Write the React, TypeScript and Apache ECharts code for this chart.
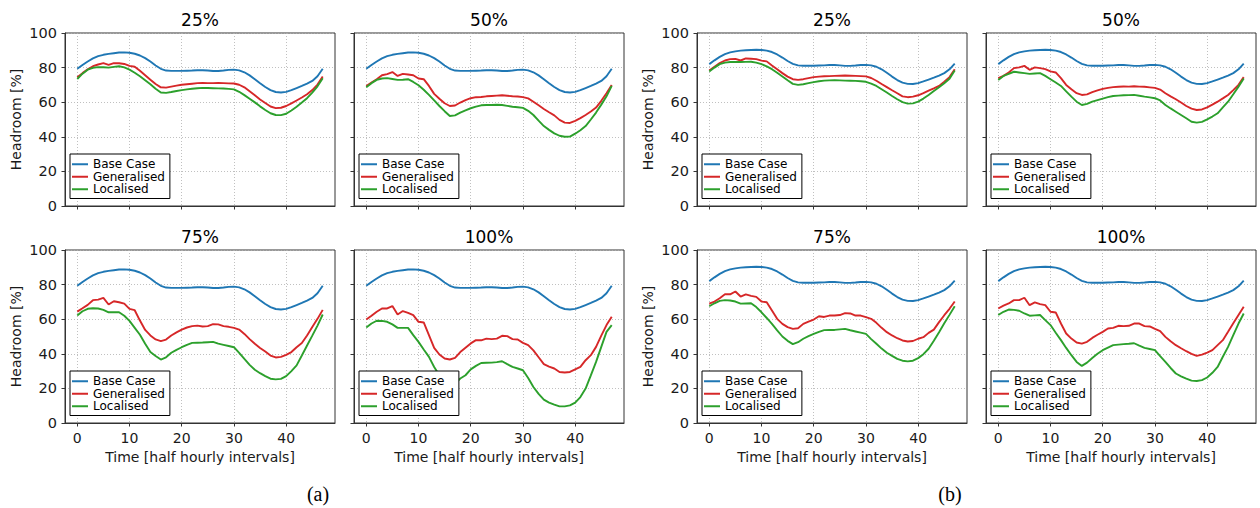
import React, { useEffect, useRef } from "react";
import * as echarts from "echarts";

// ---------- data ----------
const TIME = [
  0, 1, 2, 3, 4, 5, 6, 7, 8, 9,
  10, 11, 12, 13, 14, 15, 16, 17, 18, 19,
  20, 21, 22, 23, 24, 25, 26, 27, 28, 29,
  30, 31, 32, 33, 34, 35, 36, 37, 38, 39,
  40, 41, 42, 43, 44, 45, 46, 47,
];
const X_TICKS = [0, 10, 20, 30, 40];
const SERIES_NAMES = ["Base Case", "Generalised", "Localised"];
const PANEL_TITLES = ["25%", "50%", "75%", "100%"];
const CAPTIONS = ["(a)", "(b)"];
const X_NAME = "Time [half hourly intervals]";
const Y_NAME = "Headroom [%]";

// (a)
const A_BASE = [
  79.3, 81.5, 83.5, 85.3, 86.6, 87.4, 87.9, 88.3, 88.7, 88.8,
  88.6, 88.0, 87.0, 85.5, 83.5, 81.2, 79.3, 78.3, 78.1, 78.1,
  78.1, 78.2, 78.3, 78.5, 78.5, 78.3, 78.0, 78.0, 78.3, 78.7,
  78.8, 78.4, 77.3, 75.5, 73.3, 71.0, 68.8, 67.0, 65.9, 65.6,
  66.0, 67.0, 68.2, 69.4, 70.7, 72.3, 75.0, 79.3,
];
const A25_GEN = [
  74.4, 76.8, 79.0, 80.8, 81.8, 82.6, 81.6, 82.6, 82.5, 82.1,
  81.0, 80.5, 78.2, 75.6, 73.0, 70.5, 68.6, 68.4, 69.0, 69.6,
  70.1, 70.4, 70.7, 71.0, 71.1, 71.0, 71.0, 71.1, 71.0, 70.9,
  70.8, 70.1, 68.6, 66.3, 64.0, 61.6, 59.5, 57.5, 56.6, 56.8,
  57.8, 59.3, 61.0, 62.7, 64.6, 67.0, 70.2, 74.9,
];
const A25_LOC = [
  73.4, 76.5, 78.8, 79.9, 80.3, 80.2, 80.0, 80.4, 80.8, 80.1,
  78.8, 77.0, 75.0, 72.7, 70.4, 67.8, 65.6, 65.4, 65.9, 66.5,
  67.0, 67.4, 67.8, 68.1, 68.3, 68.2, 68.1, 68.0, 67.9, 67.7,
  67.4, 66.0, 64.1, 62.0, 59.9, 57.6, 55.5, 53.6, 52.6, 52.5,
  53.3, 55.2, 57.4, 59.8, 62.3, 65.5, 69.2, 73.9,
];
const A50_GEN = [
  69.4, 71.4, 73.3, 75.6, 76.2, 77.4, 75.2, 76.4, 76.0, 75.6,
  73.7, 73.3, 69.4, 64.8, 62.0, 59.4, 57.8, 58.1, 59.8, 61.2,
  62.3, 62.9, 63.0, 63.4, 63.6, 63.8, 64.0, 63.7, 63.4, 63.3,
  62.9, 62.2, 60.3, 58.2, 56.1, 54.2, 52.4, 49.8, 48.2, 48.0,
  49.2, 50.8, 52.6, 54.6, 56.9, 60.8, 65.2, 70.0,
];
const A50_LOC = [
  68.7, 71.0, 72.9, 73.7, 73.9, 73.4, 72.9, 73.0, 73.3, 71.7,
  69.8, 67.2, 64.2, 61.0, 57.8, 54.8, 52.0, 52.4, 54.0, 55.3,
  56.5, 57.4, 58.2, 58.4, 58.4, 58.5, 58.4, 57.9, 57.4, 57.1,
  56.7, 55.0, 52.6, 49.3, 46.2, 44.0, 42.0, 40.6, 40.0, 40.1,
  41.8, 43.8, 46.2, 50.0, 54.0, 58.6, 63.4, 69.4,
];
const A75_GEN = [
  64.4, 66.3, 68.3, 71.0, 71.3, 72.3, 68.5, 70.4, 69.8, 69.0,
  66.0, 65.2, 59.2, 53.8, 50.6, 48.3, 47.3, 48.2, 50.6, 52.4,
  54.0, 55.2, 56.0, 56.3, 55.8, 56.0, 57.1, 57.0, 56.0, 55.6,
  55.0, 54.0, 51.5, 48.5, 45.8, 43.4, 41.3, 39.0, 37.9, 38.2,
  39.4, 41.0, 43.8, 46.2, 50.6, 55.5, 60.2, 65.4,
];
const A75_LOC = [
  62.1, 64.6, 66.0, 66.3, 66.2, 65.4, 64.0, 64.1, 64.0, 62.0,
  59.0, 55.0, 51.0, 45.8, 41.0, 38.7, 36.7, 38.0, 40.6, 42.3,
  43.8, 45.2, 46.3, 46.4, 46.5, 46.7, 46.9, 45.9, 45.2, 44.5,
  43.8, 40.5, 37.0, 33.6, 30.8, 28.8, 27.1, 25.6, 25.2, 25.5,
  27.1, 30.0, 33.3, 39.0, 44.8, 50.5, 56.3, 62.7,
];
const A100_GEN = [
  59.8, 62.0, 64.3, 66.2, 66.2, 67.6, 62.7, 64.7, 63.7, 62.4,
  58.5, 58.1, 50.8, 43.4, 39.6, 37.3, 36.7, 37.6, 41.0, 43.5,
  46.0, 47.9, 47.8, 48.8, 48.5, 48.8, 50.4, 50.2, 48.5, 48.3,
  46.3, 45.0, 42.0, 38.0, 34.0, 32.6, 31.5, 29.5, 29.2, 29.5,
  31.0, 32.4, 36.3, 39.2, 44.0, 50.5, 56.6, 61.4,
];
const A100_LOC = [
  55.2, 57.5, 59.1, 59.0, 58.5, 57.0, 55.0, 55.0, 55.0, 50.8,
  46.9, 42.5, 38.2, 32.4, 27.6, 23.7, 21.8, 22.8, 25.7, 27.6,
  31.0, 33.0, 34.7, 34.8, 34.9, 35.2, 35.7, 34.0, 32.4, 31.5,
  30.5, 26.0, 20.8, 16.8, 13.5, 11.8, 10.6, 9.6, 9.6, 10.2,
  11.8, 15.0, 19.9, 27.5, 35.3, 44.0, 52.7, 56.6,
];

// (b)
const B_BASE = [
  82.0, 84.2, 86.2, 87.8, 88.8, 89.4, 89.8, 90.0, 90.2, 90.3,
  90.2, 89.8, 89.0, 87.6, 85.8, 83.8, 82.2, 81.3, 81.1, 81.1,
  81.1, 81.2, 81.3, 81.5, 81.5, 81.3, 81.0, 81.0, 81.2, 81.5,
  81.6, 81.3, 80.5, 79.0, 77.0, 74.8, 72.8, 71.3, 70.6, 70.5,
  71.0, 72.0, 73.1, 74.2, 75.4, 76.8, 79.0, 82.3,
];
const B25_GEN = [
  78.3, 80.5, 82.6, 84.1, 84.9, 85.0, 84.1, 85.3, 85.1, 84.9,
  84.0, 83.6, 81.2, 79.0, 76.8, 74.8, 73.3, 72.9, 73.3, 73.9,
  74.5, 74.8, 75.0, 75.1, 75.2, 75.3, 75.4, 75.3, 75.2, 75.1,
  74.9, 74.0, 72.4, 70.5, 68.7, 66.9, 65.2, 63.4, 62.9, 63.2,
  64.0, 65.3, 66.7, 68.0, 69.4, 71.8, 74.5, 79.1,
];
const B25_LOC = [
  77.8, 80.0, 82.0, 82.9, 83.2, 83.2, 83.2, 83.3, 83.4, 82.9,
  82.0, 80.7, 79.1, 77.0, 74.9, 72.7, 70.6, 70.0, 70.4, 71.0,
  71.6, 72.1, 72.5, 72.6, 72.7, 72.6, 72.5, 72.4, 72.3, 72.1,
  71.8, 70.7, 69.4, 67.5, 65.6, 63.6, 61.7, 60.0, 59.2, 59.3,
  60.3, 62.1, 64.2, 66.5, 68.7, 71.0, 73.5, 78.3,
];
const B50_GEN = [
  73.9, 75.2, 77.2, 79.7, 80.1, 81.0, 78.7, 80.1, 79.7, 79.1,
  77.8, 77.2, 73.9, 70.0, 67.5, 65.2, 64.2, 64.5, 65.8, 66.8,
  67.7, 68.3, 68.7, 68.9, 69.1, 69.0, 69.2, 69.0, 68.9, 68.6,
  68.3, 67.3, 65.2, 63.4, 61.7, 59.8, 57.8, 56.3, 55.5, 55.8,
  57.0, 58.6, 60.3, 62.2, 64.2, 67.0, 70.0, 74.5,
];
const B50_LOC = [
  72.9, 75.2, 76.4, 77.6, 77.2, 76.8, 76.4, 76.6, 76.8, 75.2,
  73.3, 71.4, 69.4, 66.3, 63.2, 60.3, 58.4, 59.0, 60.3, 61.2,
  62.1, 62.9, 63.6, 63.8, 64.0, 64.1, 64.2, 63.7, 63.2, 62.8,
  62.3, 61.0, 58.4, 56.4, 54.5, 52.6, 50.7, 48.7, 48.2, 48.6,
  50.1, 51.7, 53.6, 57.0, 60.3, 64.6, 69.0, 73.7,
];
const B75_GEN = [
  69.0, 70.2, 72.1, 74.4, 74.4, 76.0, 73.1, 74.4, 73.5, 72.9,
  70.2, 69.8, 65.0, 60.2, 57.3, 55.4, 54.4, 54.8, 57.3, 58.6,
  59.8, 61.7, 61.3, 62.1, 62.1, 62.4, 63.5, 63.3, 62.1, 62.1,
  61.2, 60.2, 57.9, 55.0, 52.5, 50.6, 49.0, 47.7, 47.1, 47.4,
  48.7, 49.6, 52.1, 54.0, 58.3, 62.3, 66.0, 70.2,
];
const B75_LOC = [
  67.5, 69.2, 70.6, 71.0, 70.8, 70.2, 69.0, 69.1, 69.2, 67.0,
  64.0, 60.7, 57.3, 53.5, 50.0, 47.5, 45.6, 46.7, 48.7, 50.2,
  51.5, 52.7, 53.7, 53.8, 53.8, 54.1, 54.4, 53.6, 52.9, 52.2,
  51.5, 48.5, 45.8, 43.0, 40.6, 38.8, 37.1, 36.0, 35.6, 36.0,
  37.5, 39.8, 42.9, 47.5, 52.5, 57.6, 62.5, 67.5,
];
const B100_GEN = [
  66.2, 67.8, 69.1, 71.0, 71.0, 72.4, 68.1, 69.7, 68.7, 68.1,
  64.3, 63.9, 57.5, 51.7, 48.8, 46.5, 45.9, 46.9, 49.2, 51.0,
  52.7, 54.6, 55.0, 56.2, 56.0, 56.2, 57.5, 57.5, 56.0, 55.8,
  54.4, 53.1, 49.8, 47.2, 45.0, 43.2, 41.5, 40.0, 38.8, 39.5,
  40.7, 42.1, 45.0, 47.9, 52.7, 57.6, 62.4, 67.2,
];
const B100_LOC = [
  62.4, 64.3, 65.6, 65.4, 64.9, 63.3, 62.0, 62.2, 62.4, 59.5,
  56.6, 52.2, 47.9, 43.4, 39.2, 35.3, 33.0, 34.9, 37.6, 40.0,
  42.1, 43.6, 45.0, 45.3, 45.6, 45.8, 46.1, 44.7, 43.4, 42.8,
  42.1, 38.6, 35.3, 31.8, 28.6, 27.0, 25.7, 24.5, 24.3, 24.8,
  26.3, 29.0, 32.4, 38.3, 44.0, 50.8, 57.5, 63.3,
];

// ---------- layout / style ----------
const FONT = "DejaVu Sans";
const COLORS = ["#1f77b4", "#d62728", "#2ca02c"];
const GRID_W = 270;
const GRID_H = 173;
const ROW_TOPS = [33, 250];

const PANELS = [
  { title: PANEL_TITLES[0], left: 65, row: 0, left1: true, values: [A_BASE, A25_GEN, A25_LOC] },
  { title: PANEL_TITLES[1], left: 354, row: 0, left1: false, values: [A_BASE, A50_GEN, A50_LOC] },
  { title: PANEL_TITLES[2], left: 65, row: 1, left1: true, values: [A_BASE, A75_GEN, A75_LOC] },
  { title: PANEL_TITLES[3], left: 354, row: 1, left1: false, values: [A_BASE, A100_GEN, A100_LOC] },
  { title: PANEL_TITLES[0], left: 697, row: 0, left1: true, values: [B_BASE, B25_GEN, B25_LOC] },
  { title: PANEL_TITLES[1], left: 986, row: 0, left1: false, values: [B_BASE, B50_GEN, B50_LOC] },
  { title: PANEL_TITLES[2], left: 697, row: 1, left1: true, values: [B_BASE, B75_GEN, B75_LOC] },
  { title: PANEL_TITLES[3], left: 986, row: 1, left1: false, values: [B_BASE, B100_GEN, B100_LOC] },
];

const SPLIT = { show: true, lineStyle: { color: "#b0b0b0", width: 0.8, type: [1, 2] as any } };
const AXIS_LINE = { show: true, onZero: false, lineStyle: { color: "#333", width: 1 } };

function buildOption() {
  const grid = PANELS.map((p) => ({
    left: p.left,
    top: ROW_TOPS[p.row],
    width: GRID_W,
    height: GRID_H,
    show: true,
    borderColor: "#333",
    borderWidth: 1,
    backgroundColor: "transparent",
    containLabel: false,
    outerBoundsMode: "none",
  }));

  const xAxis = PANELS.map((p, i) => {
    const showLabels = p.row === 1;
    return {
      type: "value",
      gridIndex: i,
      min: -2.35,
      max: 49.35,
      splitNumber: 5,
      axisLine: AXIS_LINE,
      axisTick: {
        show: true,
        inside: false,
        length: 3.5,
        customValues: X_TICKS,
        lineStyle: { color: "#333", width: 1 },
      },
      axisLabel: {
        show: showLabels,
        customValues: X_TICKS,
        formatter: (v: number) => (v % 10 === 0 ? String(v) : ""),
        fontFamily: FONT,
        fontSize: 14,
        color: "#1a1a1a",
        margin: 8,
      },
      splitLine: SPLIT,
      name: showLabels ? X_NAME : "",
      nameLocation: "middle",
      nameGap: 27,
      nameTextStyle: { fontFamily: FONT, fontSize: 14, color: "#1a1a1a" },
    };
  });

  const yAxis = PANELS.map((p, i) => ({
    type: "value",
    gridIndex: i,
    min: 0,
    max: 100,
    interval: 20,
    axisLine: AXIS_LINE,
    axisTick: { show: true, inside: false, length: 3.5, lineStyle: { color: "#333", width: 1 } },
    axisLabel: {
      show: p.left1,
      fontFamily: FONT,
      fontSize: 14.5,
      color: "#1a1a1a",
      margin: 8,
    },
    splitLine: SPLIT,
    name: p.left1 ? Y_NAME : "",
    nameLocation: "middle",
    nameRotate: 90,
    nameGap: 42,
    nameTextStyle: { fontFamily: FONT, fontSize: 14, color: "#1a1a1a" },
  }));

  const series: any[] = [];
  PANELS.forEach((p, i) => {
    p.values.forEach((vals, k) => {
      series.push({
        type: "line",
        name: SERIES_NAMES[k],
        xAxisIndex: i,
        yAxisIndex: i,
        data: TIME.map((t, j) => [t, vals[j]]),
        showSymbol: false,
        symbol: "none",
        lineStyle: { width: 1.9, color: COLORS[k] },
        itemStyle: { color: COLORS[k] },
        z: 3,
      });
    });
  });

  const legend = PANELS.map((p) => ({
    orient: "vertical",
    left: p.left + 5,
    top: ROW_TOPS[p.row] + GRID_H - 52,
    data: SERIES_NAMES,
    icon: "rect",
    itemWidth: 16,
    itemHeight: 2,
    itemGap: 0,
    padding: [4, 5, 3, 2],
    borderColor: "#000",
    borderWidth: 1,
    borderRadius: 0,
    backgroundColor: "#fff",
    selectedMode: false,
    z: 10,
    textStyle: { fontFamily: FONT, fontSize: 12, color: "#000", lineHeight: 12.5 },
  }));

  const graphic: any[] = PANELS.map((p) => ({
    type: "text",
    x: p.left + GRID_W / 2,
    y: ROW_TOPS[p.row] - 13,
    style: {
      text: p.title,
      fontFamily: FONT,
      fontSize: 17,
      fill: "#000",
      textAlign: "center",
      textVerticalAlign: "middle",
    },
  }));
  graphic.push(
    {
      type: "text",
      x: 318,
      y: 494,
      style: { text: CAPTIONS[0], fontFamily: "Liberation Serif", fontSize: 20, fill: "#000", textAlign: "center", textVerticalAlign: "middle" },
    },
    {
      type: "text",
      x: 950,
      y: 494,
      style: { text: CAPTIONS[1], fontFamily: "Liberation Serif", fontSize: 20, fill: "#000", textAlign: "center", textVerticalAlign: "middle" },
    }
  );

  return {
    animation: false,
    backgroundColor: "#fff",
    grid,
    xAxis,
    yAxis,
    series,
    legend,
    graphic,
    tooltip: { show: false },
  };
}

export default function App() {
  const ref = useRef<HTMLDivElement>(null);
  useEffect(() => {
    document.body.style.margin = "0";
    if (!ref.current) return;
    const chart = echarts.init(ref.current, undefined, { renderer: "svg" });
    chart.setOption(buildOption() as any);
    return () => chart.dispose();
  }, []);
  return <div ref={ref} style={{ width: 1260, height: 508, background: "#fff" }} />;
}
